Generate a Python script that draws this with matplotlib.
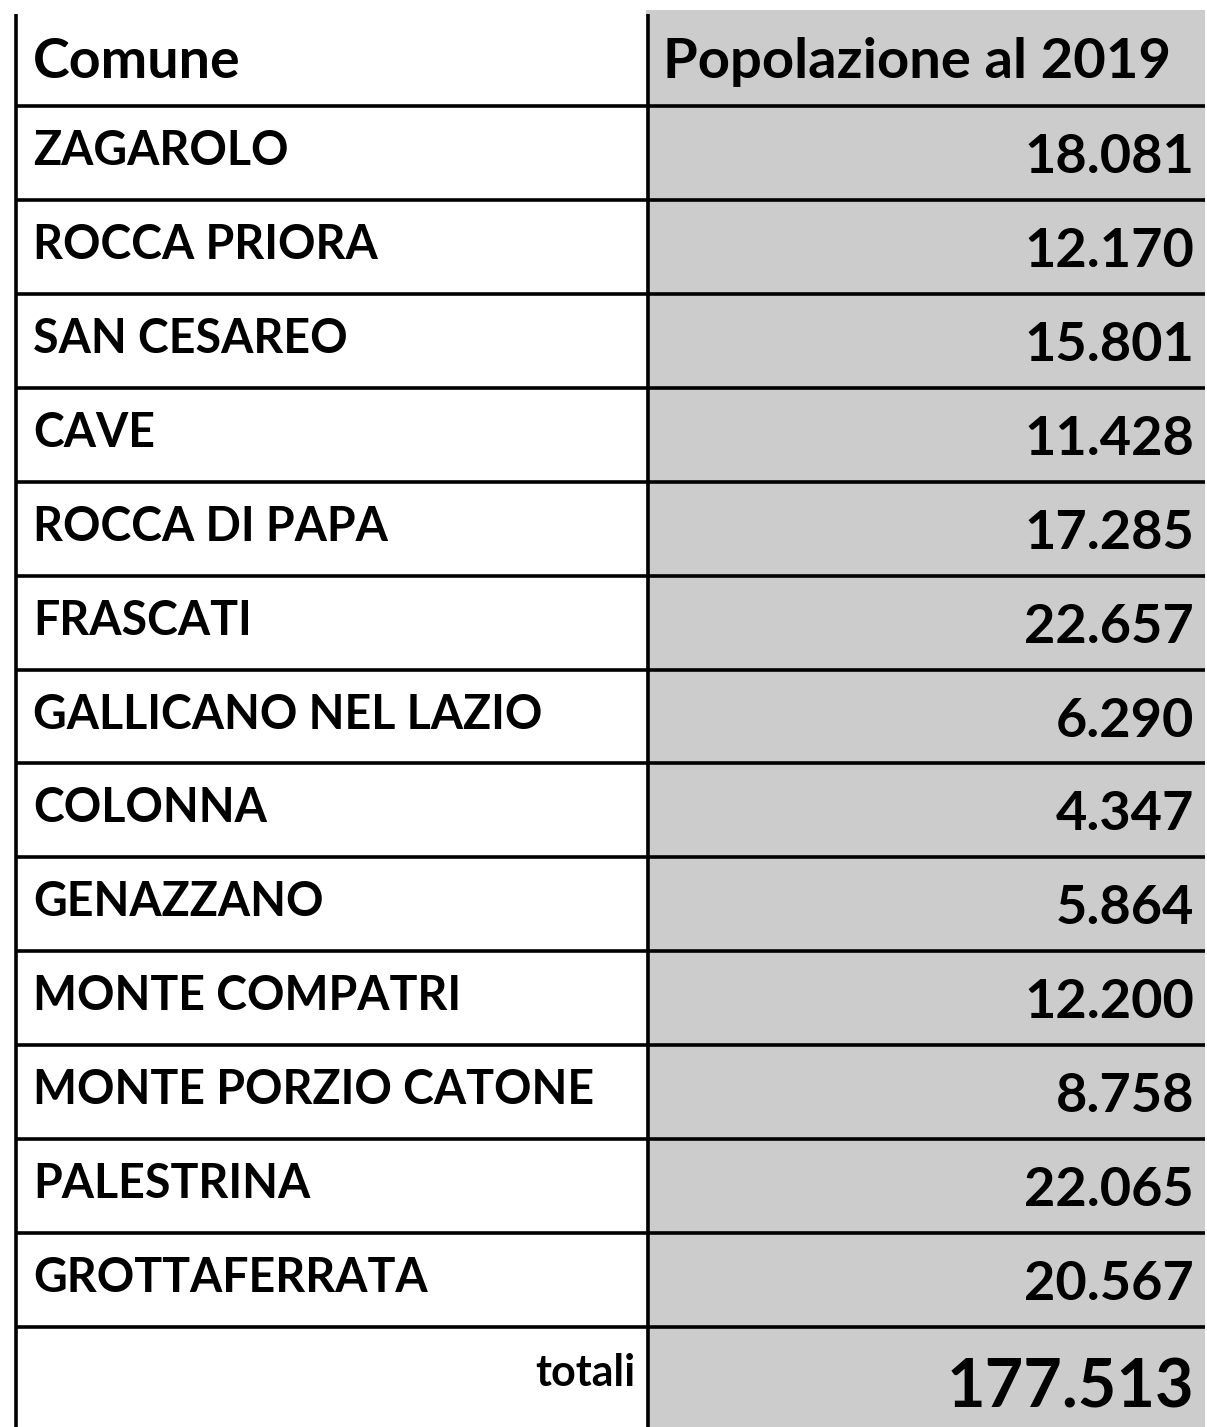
import numpy as np
import matplotlib.pyplot as plt
from matplotlib.patches import Rectangle

plt.rcParams['font.family'] = ['Lato', 'DejaVu Sans']

# data
header = ['Comune', 'Popolazione al 2019']
comuni = ['ZAGAROLO', 'ROCCA PRIORA', 'SAN CESAREO', 'CAVE', 'ROCCA DI PAPA',
          'FRASCATI', 'GALLICANO NEL LAZIO', 'COLONNA', 'GENAZZANO',
          'MONTE COMPATRI', 'MONTE PORZIO CATONE', 'PALESTRINA', 'GROTTAFERRATA']
popolazione = [18081, 12170, 15801, 11428, 17285, 22657, 6290, 4347, 5864,
               12200, 8758, 22065, 20567]
totale_label = 'totali'

def fmt(n):
  return '{:,}'.format(n).replace(',', '.')

if __name__ == "__main__":
  W, H = 1207, 1427
  fig = plt.figure(figsize=(W / 100, H / 100), dpi=100)
  ax = fig.add_axes([0, 0, 1, 1])
  ax.set_xlim(0, W)
  ax.set_ylim(H, 0)
  ax.axis('off')

  # layout (pixels)
  x_left, x_mid, x_right = 15.5, 648, 1205
  y_head = 106
  row_h = (1327 - y_head) / len(comuni)
  lw = 2.6

  # grey value column
  ax.add_patch(Rectangle((646, 10), x_right - 646, H - 10,
                         facecolor='#cccccc', edgecolor='none', zorder=0))

  # grid lines
  ys = [y_head + k * row_h for k in range(len(comuni) + 1)]
  ax.hlines(ys, x_left, x_right, colors='black', linewidth=lw, zorder=2)
  ax.vlines([x_left, x_mid], 14, H, colors='black', linewidth=lw, zorder=2)

  # header
  ax.text(33, 78, header[0], fontsize=40, fontweight='bold', va='baseline', ha='left')
  ax.text(663, 78, header[1], fontsize=40.5, fontweight='bold', va='baseline', ha='left')

  # rows
  for i, (c, p) in enumerate(zip(comuni, popolazione)):
    top = ys[i]
    ax.text(33, top + 59, c, fontsize=33.5, fontweight='bold', va='baseline', ha='left')
    ax.text(1194, top + 67, fmt(p), fontsize=39, fontweight='bold',
            va='baseline', ha='right')

  # totals
  top = ys[-1]
  ax.text(635, top + 59, totale_label, fontsize=31, fontweight='bold',
          va='baseline', ha='right')
  ax.text(1194, top + 80, fmt(int(np.sum(popolazione))), fontsize=48,
          fontweight='bold', va='baseline', ha='right')

  plt.savefig('out.png', dpi=100, facecolor='white')
